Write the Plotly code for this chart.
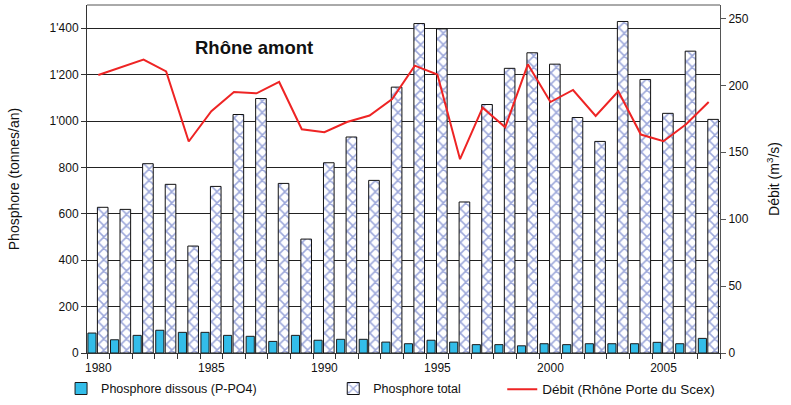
import plotly.graph_objects as go

years = list(range(1980, 2008))
p_total = [628, 619, 816, 727, 461, 718, 1028, 1097, 731, 491, 820, 931, 744, 1146,
           1420, 1397, 651, 1071, 1227, 1294, 1245, 1015, 912, 1429, 1179, 1033, 1301, 1007]
p_dissous = [86, 57, 76, 98, 89, 89, 76, 72, 50, 76, 55, 59, 59, 47,
             40, 55, 47, 36, 36, 31, 40, 36, 40, 40, 40, 46, 40, 63]
debit = [207.7, 213.4, 219.2, 210.4, 158, 180.6, 195, 194, 202.5, 167.2, 165, 172.6, 177.4, 189.8,
         214.7, 208, 144.8, 183.3, 168.7, 215.7, 187.5, 196.5, 177.1, 195.5, 163.2, 158.2, 170.9, 187.5]

left_ticks = [0, 200, 400, 600, 800, 1000, 1200, 1400]
left_ticktext = ["0", "200", "400", "600", "800", "1'000", "1'200", "1'400"]
right_ticks = [0, 50, 100, 150, 200, 250]
x_labels = [1980, 1985, 1990, 1995, 2000, 2005]

FONT = "Liberation Sans, Arial, sans-serif"

fig = go.Figure()
fig.add_trace(go.Bar(
    x=years, y=p_dissous, name="Phosphore dissous (P-PO4)",
    width=0.36, offset=-0.46,
    marker=dict(color="#33bde9", line=dict(color="#1a1a1a", width=1)),
    legend="legend",
))
fig.add_trace(go.Bar(
    x=years, y=p_total, name="Phosphore total",
    width=0.47, offset=-0.04,
    marker=dict(color="white", line=dict(color="#111111", width=1),
                pattern=dict(shape="x", fgcolor="#3a50b5", bgcolor="white", size=8, solidity=0.35)),
    legend="legend2",
))
fig.add_trace(go.Scatter(
    x=years, y=debit, name="Débit (Rhône Porte du Scex)", yaxis="y2",
    mode="lines", line=dict(color="#ee2424", width=2),
    legend="legend3",
))

fig.update_layout(
    width=791, height=405,
    margin=dict(l=87, r=71, t=5, b=52, autoexpand=False),
    paper_bgcolor="white", plot_bgcolor="white",
    font=dict(family=FONT, size=12, color="#111111"),
    barmode="overlay",
    showlegend=True,
    xaxis=dict(
        range=[1979.5, 2007.5], automargin=False,
        tickvals=x_labels, ticktext=[str(v) for v in x_labels],
        ticks="", ticklabelstandoff=4, showgrid=False, zeroline=False,
        showline=True, linecolor="#333333", linewidth=1, mirror=False,
        tickfont=dict(size=12),
        minor=dict(tickmode="linear", tick0=1979.5, dtick=1, ticks="outside",
                   ticklen=5, tickcolor="#333333", showgrid=False),
    ),
    yaxis=dict(
        range=[0, 1500], tickvals=left_ticks, ticktext=left_ticktext, automargin=False,
        ticks="outside", ticklen=5, tickcolor="#333333",
        showgrid=True, gridcolor="#222222", gridwidth=1, zeroline=False,
        showline=True, linecolor="#333333", linewidth=1,
        title=dict(text="Phosphore (tonnes/an)", font=dict(size=14), standoff=26),
        tickfont=dict(size=12),
    ),
    yaxis2=dict(
        range=[0, 260], tickvals=right_ticks, overlaying="y", side="right", automargin=False,
        ticks="outside", ticklen=5, tickcolor="#555555",
        showgrid=False, zeroline=False,
        showline=True, linecolor="#555555", linewidth=1,
        title=dict(text="Débit (m<sup>3</sup>/s)", font=dict(size=14), standoff=21),
        tickfont=dict(size=12),
    ),
    legend=dict(orientation="h", x=-0.041, y=-0.06, xanchor="left", yanchor="top",
                font=dict(size=12.5), bgcolor="rgba(0,0,0,0)"),
    legend2=dict(orientation="h", x=0.389, y=-0.06, xanchor="left", yanchor="top",
                 font=dict(size=12.5), bgcolor="rgba(0,0,0,0)"),
    legend3=dict(orientation="h", x=0.656, y=-0.06, xanchor="left", yanchor="top",
                 font=dict(size=13.5), bgcolor="rgba(0,0,0,0)"),
    annotations=[dict(text="<b>Rhône amont</b>", x=0.264, y=1315, xref="paper", yref="y",
                      xanchor="center", yanchor="middle",
                      showarrow=False, font=dict(size=18.5, color="#111111"))],
    shapes=[dict(type="line", xref="paper", yref="paper", x0=0, x1=1, y0=1, y1=1,
                 line=dict(color="#555555", width=1))],
)

fig.write_html("out.html", config={"displayModeBar": False},
               post_script="document.body.style.margin='0px';")
